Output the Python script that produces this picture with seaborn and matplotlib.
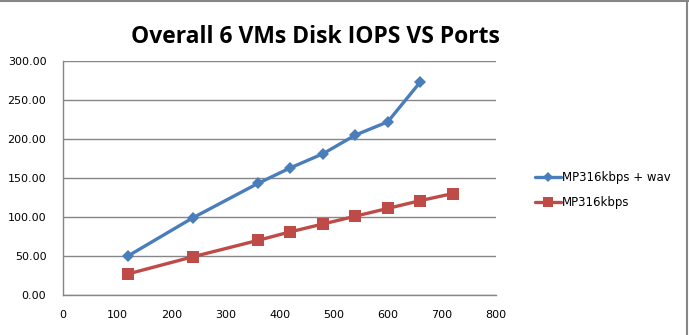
import matplotlib
matplotlib.use("Agg")
import matplotlib.pyplot as plt
import seaborn as sns
import pandas as pd

# Ports vs overall disk IOPS for 6 VMs
ports_wav = [120, 240, 360, 420, 480, 540, 600, 660]
iops_wav = [50, 99, 143, 163, 181, 205, 222, 273]
ports_mp3 = [120, 240, 360, 420, 480, 540, 600, 660, 720]
iops_mp3 = [27, 49, 70, 81, 91, 101, 111, 121, 130]
series_names = ["MP316kbps + wav", "MP316kbps"]
yticks = [0, 50, 100, 150, 200, 250, 300]
xticks = [0, 100, 200, 300, 400, 500, 600, 700, 800]

df = pd.concat([
    pd.DataFrame({"Ports": ports_wav, "IOPS": iops_wav, "Series": series_names[0]}),
    pd.DataFrame({"Ports": ports_mp3, "IOPS": iops_mp3, "Series": series_names[1]}),
])

sns.set_theme(style="white")
plt.rcParams["font.family"] = ["DejaVu Sans"]
plt.rcParams["text.color"] = "black"

fig = plt.figure(figsize=(6.89, 3.35), dpi=100)
ax = fig.add_axes([63 / 689, 40 / 335, 433 / 689, 234 / 335])

palette = {series_names[0]: "#4A7EBB", series_names[1]: "#BE4B48"}
markers = {series_names[0]: "D", series_names[1]: "s"}
sizes = {series_names[0]: 6, series_names[1]: 8.5}
for name in series_names:
    sub = df[df["Series"] == name]
    sns.lineplot(data=sub, x="Ports", y="IOPS", ax=ax, color=palette[name],
                 marker=markers[name], markersize=sizes[name], linewidth=2.4,
                 markeredgewidth=0, label=name, legend=False)

ax.set_xlim(0, 800)
ax.set_ylim(0, 300)
ax.set_xticks(xticks)
ax.set_yticks(yticks)
ax.set_xticklabels([str(v) for v in xticks], fontsize=8)
ax.set_yticklabels([f"{v:.2f}" for v in yticks], fontsize=8)
ax.tick_params(axis="both", length=0, colors="black")
ax.yaxis.set_tick_params(pad=12)
ax.xaxis.set_tick_params(pad=11)
ax.yaxis.grid(True, color="#868686", linewidth=1)
ax.xaxis.grid(False)
ax.set_axisbelow(True)
for side in ["top", "right"]:
    ax.spines[side].set_visible(False)
for side in ["left", "bottom"]:
    ax.spines[side].set_color("#868686")
    ax.spines[side].set_linewidth(1)
ax.set_xlabel("")
ax.set_ylabel("")

fig.text(315 / 689, 1 - 37 / 335, "Overall 6 VMs Disk IOPS VS Ports",
         ha="center", va="center", fontsize=16.5, fontweight="bold",
         color="black", family=["Open Sans", "DejaVu Sans"])

handles, labels = ax.get_legend_handles_labels()
fig.legend(handles, labels, loc="center left", bbox_to_anchor=(524 / 689, 1 - 190 / 335),
           frameon=False, fontsize=8.5, handlelength=2.2, handletextpad=0.1,
           labelspacing=1.0, markerscale=0.8, labelcolor="black")

# chart area border along the top and right edges
fig.add_artist(plt.Line2D([0, 1], [1 - 1 / 335, 1 - 1 / 335], color="#868686",
                          linewidth=1.5, transform=fig.transFigure))
fig.add_artist(plt.Line2D([1 - 2 / 689, 1 - 2 / 689], [0, 1], color="#868686",
                          linewidth=1.5, transform=fig.transFigure))

fig.savefig("out.png", dpi=100)
